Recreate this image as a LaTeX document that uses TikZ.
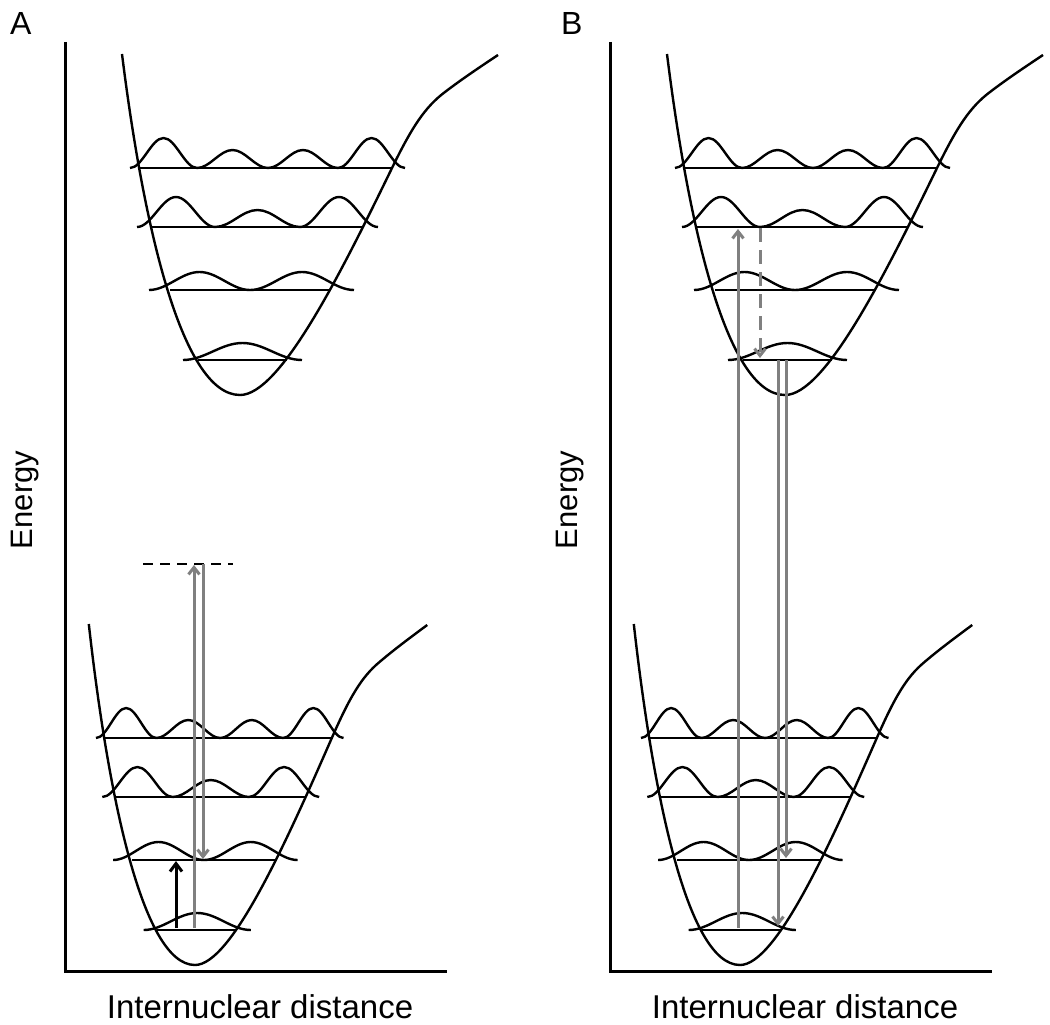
\documentclass[tikz,border=0pt]{standalone}
\usepackage{fontspec}
\setmainfont{Liberation Sans}
\usetikzlibrary{arrows.meta}

\definecolor{transgray}{RGB}{128,128,128}

\tikzset{every picture/.style={line width=2pt}}
\tikzset{
  curve/.style={line width=2.4pt, line join=round},
  axis/.style={line width=3pt},
  trans/.style={draw=transgray, line width=3pt, -{Straight Barb[length=7pt,width=11pt]}},
  irtrans/.style={draw=black, line width=3pt, -{Straight Barb[length=8pt,width=12pt]}},
  virtual/.style={line width=2.4pt, dash pattern=on 10pt off 7pt},
  relax/.style={dash pattern=on 14pt off 8pt},
  panel/.style={font=\fontsize{32}{38}\selectfont, inner sep=0pt},
  axlabel/.style={font=\fontsize{33}{40}\selectfont, inner sep=0pt}
}

% one hump of |psi|^2 : from x=#1 to x=#2, baseline #3, height #4
\newcommand{\hump}[4]{(#1,#3) cos ({(3*(#1)+(#2))/4},{(#3)-(#4)/2}) sin ({((#1)+(#2))/2},{(#3)-(#4)}) cos ({((#1)+3*(#2))/4},{(#3)-(#4)/2}) sin (#2,#3)}

% potential well with four levels, drawn about its minimum
\newcommand{\drawwell}{%
  %Curve Lines
  \draw [curve] (-118,-341) .. controls (-98,-180) and (-60,0) .. (0,0) .. controls (40,0) and (100,-120) .. (152,-227) .. controls (172,-268) and (185,-288) .. (205,-303) .. controls (222,-316) and (240,-328) .. (258,-340) ;
  %Straight Lines
  \draw [curve] (-102,-227) -- (152,-227) (-88,-168) -- (123,-168) (-70,-105) -- (90,-105) (-42,-35) -- (47,-35) ;
  %Wave functions
  \draw [curve] \hump{-110}{-43}{-227}{30} \hump{-43}{28}{-227}{18} \hump{28}{98}{-227}{18} \hump{98}{165}{-227}{30} ;
  \draw [curve] \hump{-103}{-25}{-168}{30} \hump{-25}{60}{-168}{17} \hump{60}{138}{-168}{30} ;
  \draw [curve] \hump{-91}{10}{-105}{18} \hump{10}{114}{-105}{18} ;
  \draw [curve] \hump{-57}{62}{-35}{17} ;
}

\begin{document}
\begin{tikzpicture}[x=1pt,y=1pt,yscale=-1]
\useasboundingbox (0,0) rectangle (1050,1025);

%%%%%%%% Panel A
%Shape: Axis 2D
\coordinate (topA) at (65,42);
\coordinate (endA) at (447,971);
\draw [axis] (topA) |- (endA) ;
% Text Node
\node [panel, anchor=base west] (labelA) at (9,35) {A};
\node [axlabel, font=\fontsize{31}{38}\selectfont, rotate=90, anchor=base] (energyA) at (32,500) {Energy};
\node [axlabel, anchor=base] (distA) at (260,1018) {Internuclear distance};
% excited state
\begin{scope}[shift={(240,395)}]
  \drawwell
\end{scope}
% ground state
\begin{scope}[shift={(195,965)},xscale=0.9]
  \drawwell
\end{scope}
% virtual level
\coordinate (virtL) at (143,564);
\coordinate (virtR) at (233,564);
\draw [virtual] (virtL) -- (virtR) ;
% Raman arrows
\coordinate (ramanUpS) at (194,928);
\coordinate (ramanUpE) at (194,565);
\draw [trans] (ramanUpS) -- (ramanUpE) ;
\coordinate (ramanDnS) at (203,564);
\coordinate (ramanDnE) at (203,859);
\draw [trans] (ramanDnS) -- (ramanDnE) ;
% IR arrow
\coordinate (irS) at (176,928);
\coordinate (irE) at (176,861);
\draw [irtrans] (irS) -- (irE) ;

%%%%%%%% Panel B
%Shape: Axis 2D
\coordinate (topB) at (610,42);
\coordinate (endB) at (992,971);
\draw [axis] (topB) |- (endB) ;
% Text Node
\node [panel, anchor=base west] (labelB) at (560,35) {B};
\node [axlabel, font=\fontsize{31}{38}\selectfont, rotate=90, anchor=base] (energyB) at (577,500) {Energy};
\node [axlabel, anchor=base] (distB) at (805,1018) {Internuclear distance};
% excited state
\begin{scope}[shift={(785,395)}]
  \drawwell
\end{scope}
% ground state
\begin{scope}[shift={(740,965)},xscale=0.9]
  \drawwell
\end{scope}
% absorption
\coordinate (absS) at (738,928);
\coordinate (absE) at (738,229);
\draw [trans] (absS) -- (absE) ;
% relaxation
\coordinate (relS) at (760,228);
\coordinate (relE) at (760,358);
\draw [trans, relax] (relS) -- (relE) ;
% emission
\coordinate (emAS) at (778,360);
\coordinate (emAE) at (778,926);
\draw [trans] (emAS) -- (emAE) ;
\coordinate (emBS) at (786,360);
\coordinate (emBE) at (786,858);
\draw [trans] (emBS) -- (emBE) ;

\end{tikzpicture}
\end{document}
